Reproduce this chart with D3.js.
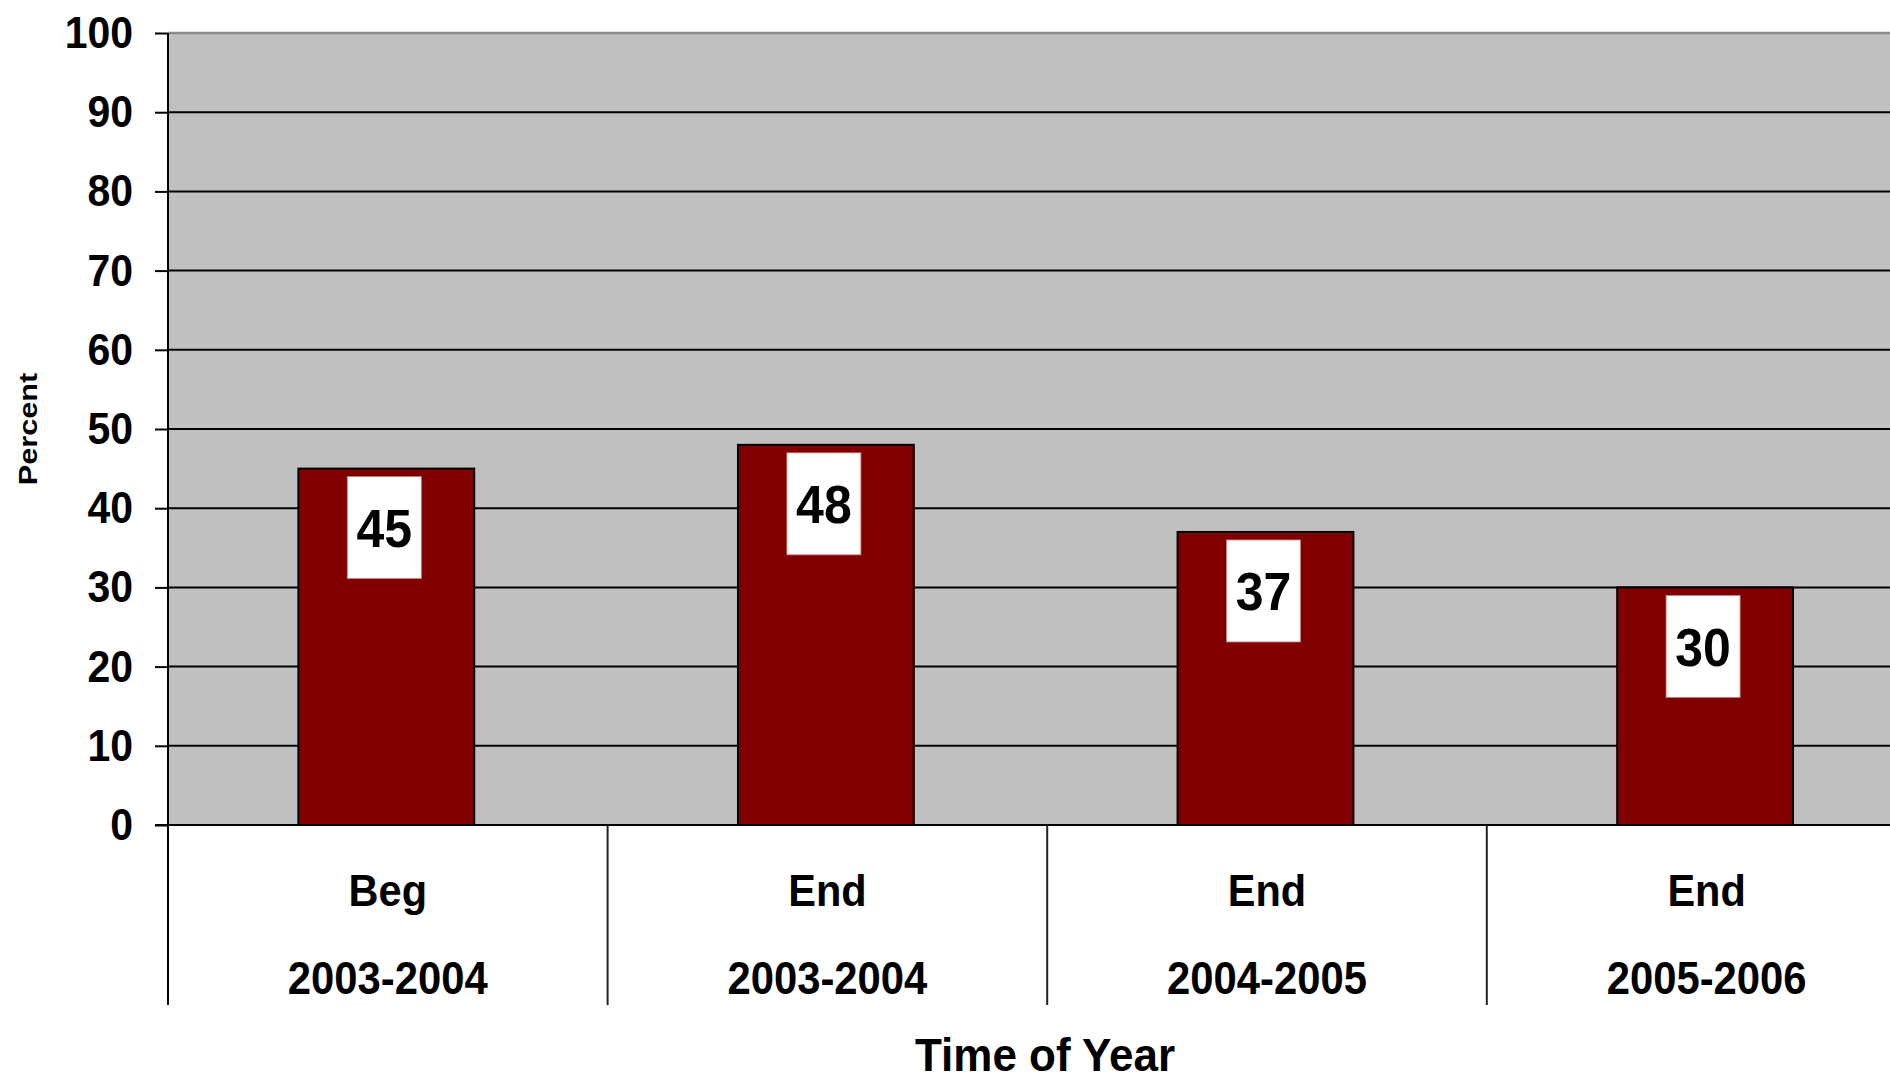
<!DOCTYPE html>
<html>
<head>
<meta charset="utf-8">
<script src="https://cdn.jsdelivr.net/npm/d3@7"></script>
<style>
  html, body { margin: 0; padding: 0; background: #ffffff; }
  svg { display: block; }
  text { font-family: "Liberation Sans", Arial, sans-serif; fill: #000; }
</style>
</head>
<body>
<svg id="chart" width="1890" height="1079"></svg>
<script>
// Chart data
const periods = ["Beg", "End", "End", "End"];
const schoolYears = ["2003-2004", "2003-2004", "2004-2005", "2005-2006"];
const percentValues = [45, 48, 37, 30];
const yTickValues = [0, 10, 20, 30, 40, 50, 60, 70, 80, 90, 100];
const xAxisTitle = "Time of Year";
const yAxisTitle = "Percent";

const svg = d3.select("#chart");
const W = 1890, H = 1079;

// Plot area (the category band runs past the right edge of the page)
const plotLeft = 168, plotTop = 33, plotBottom = 825, plotRight = 1926.4;
const catBottom = 1005;

const keys = periods.map((p, i) => p + " " + schoolYears[i]);

const x = d3.scaleBand()
  .domain(keys)
  .range([plotLeft, plotRight])
  .paddingInner(0.6)
  .paddingOuter(0.3);

const y = d3.scaleLinear()
  .domain([0, 100])
  .range([plotBottom, plotTop]);

svg.append("rect").attr("width", W).attr("height", H).attr("fill", "#ffffff");

// Plot background
svg.append("rect")
  .attr("x", plotLeft).attr("y", plotTop)
  .attr("width", plotRight - plotLeft).attr("height", plotBottom - plotTop)
  .attr("fill", "#c0c0c0");

// Top border of the plot area
svg.append("line")
  .attr("x1", plotLeft).attr("x2", W)
  .attr("y1", y(100)).attr("y2", y(100))
  .attr("stroke", "#8a8a8a").attr("stroke-width", 2.5);

// Horizontal gridlines
svg.append("g")
  .selectAll("line")
  .data(yTickValues.filter(v => v > 0 && v < 100))
  .join("line")
  .attr("x1", plotLeft).attr("x2", W)
  .attr("y1", d => y(d)).attr("y2", d => y(d))
  .attr("stroke", "#000").attr("stroke-width", 2);

// Y axis ticks and labels
const yAxis = svg.append("g")
  .attr("transform", `translate(${plotLeft},0)`)
  .call(d3.axisLeft(y).tickValues(yTickValues).tickSize(13).tickPadding(22));
yAxis.select(".domain").remove();
yAxis.selectAll(".tick line").attr("stroke", "#000").attr("stroke-width", 2);
yAxis.selectAll(".tick text")
  .attr("font-family", "Liberation Sans, Arial, sans-serif")
  .attr("font-size", 41)
  .attr("font-weight", "bold")
  .attr("fill", "#000")
  .attr("transform", "scale(1,1.1)");

// Bars (shifted a hair left of the band centre)
const barShift = -1.5;
svg.append("g")
  .selectAll("rect")
  .data(percentValues)
  .join("rect")
  .attr("x", (d, i) => x(keys[i]) + barShift)
  .attr("y", d => y(d))
  .attr("width", x.bandwidth())
  .attr("height", d => y(0) - y(d))
  .attr("fill", "#800000")
  .attr("stroke", "#000")
  .attr("stroke-width", 2);

// Value labels inside the top of each bar
const boxW = 74, boxH = 102, boxGap = 8;
const valueLabels = svg.append("g")
  .selectAll("g")
  .data(percentValues)
  .join("g")
  .attr("transform", (d, i) => `translate(${x(keys[i]) + x.bandwidth() / 2 + barShift - 2},${y(d) + boxGap})`);
valueLabels.append("rect")
  .attr("x", -boxW / 2).attr("y", 0)
  .attr("width", boxW).attr("height", boxH)
  .attr("fill", "#ffffff")
  .attr("stroke", "#c88080").attr("stroke-width", 0.8);
valueLabels.append("text")
  .attr("transform", `translate(0,${boxH / 2 + 19.5}) scale(1,1.09)`)
  .attr("text-anchor", "middle")
  .attr("font-size", 50)
  .attr("font-weight", "bold")
  .text(d => d);

// Baseline (x axis) with the zero tick
svg.append("line")
  .attr("x1", plotLeft - 13).attr("x2", W)
  .attr("y1", plotBottom).attr("y2", plotBottom)
  .attr("stroke", "#000").attr("stroke-width", 2);

// Left axis line, continuing down through the category area
svg.append("line")
  .attr("x1", plotLeft).attr("x2", plotLeft)
  .attr("y1", plotTop).attr("y2", catBottom)
  .attr("stroke", "#000").attr("stroke-width", 2);

// Category dividers below the plot
const halfGap = x.step() * x.paddingInner() / 2;
svg.append("g")
  .selectAll("line")
  .data(keys.slice(1))
  .join("line")
  .attr("x1", d => x(d) - halfGap).attr("x2", d => x(d) - halfGap)
  .attr("y1", plotBottom).attr("y2", catBottom)
  .attr("stroke", "#222").attr("stroke-width", 2);

// Two-line category labels
const catLabels = svg.append("g")
  .selectAll("g")
  .data(keys)
  .join("g")
  .attr("transform", d => `translate(${x(d) + x.bandwidth() / 2},0)`);
catLabels.append("text")
  .attr("transform", "translate(0,905.5) scale(1,1.09)")
  .attr("text-anchor", "middle")
  .attr("font-size", 41.5)
  .attr("font-weight", "bold")
  .text((d, i) => periods[i]);
catLabels.append("text")
  .attr("transform", "translate(0,994.3) scale(1,1.09)")
  .attr("text-anchor", "middle")
  .attr("font-size", 41.8)
  .attr("font-weight", "bold")
  .text((d, i) => schoolYears[i]);

// Axis titles
svg.append("text")
  .attr("transform", "translate(1045,1071) scale(1,1.03)")
  .attr("text-anchor", "middle")
  .attr("font-size", 44)
  .attr("font-weight", "bold")
  .text(xAxisTitle);

svg.append("text")
  .attr("transform", `translate(37,${(plotTop + plotBottom) / 2}) rotate(-90) scale(1.16,1)`)
  .attr("text-anchor", "middle")
  .attr("font-size", 26.5)
  .attr("font-weight", "bold")
  .text(yAxisTitle);
</script>
</body>
</html>
